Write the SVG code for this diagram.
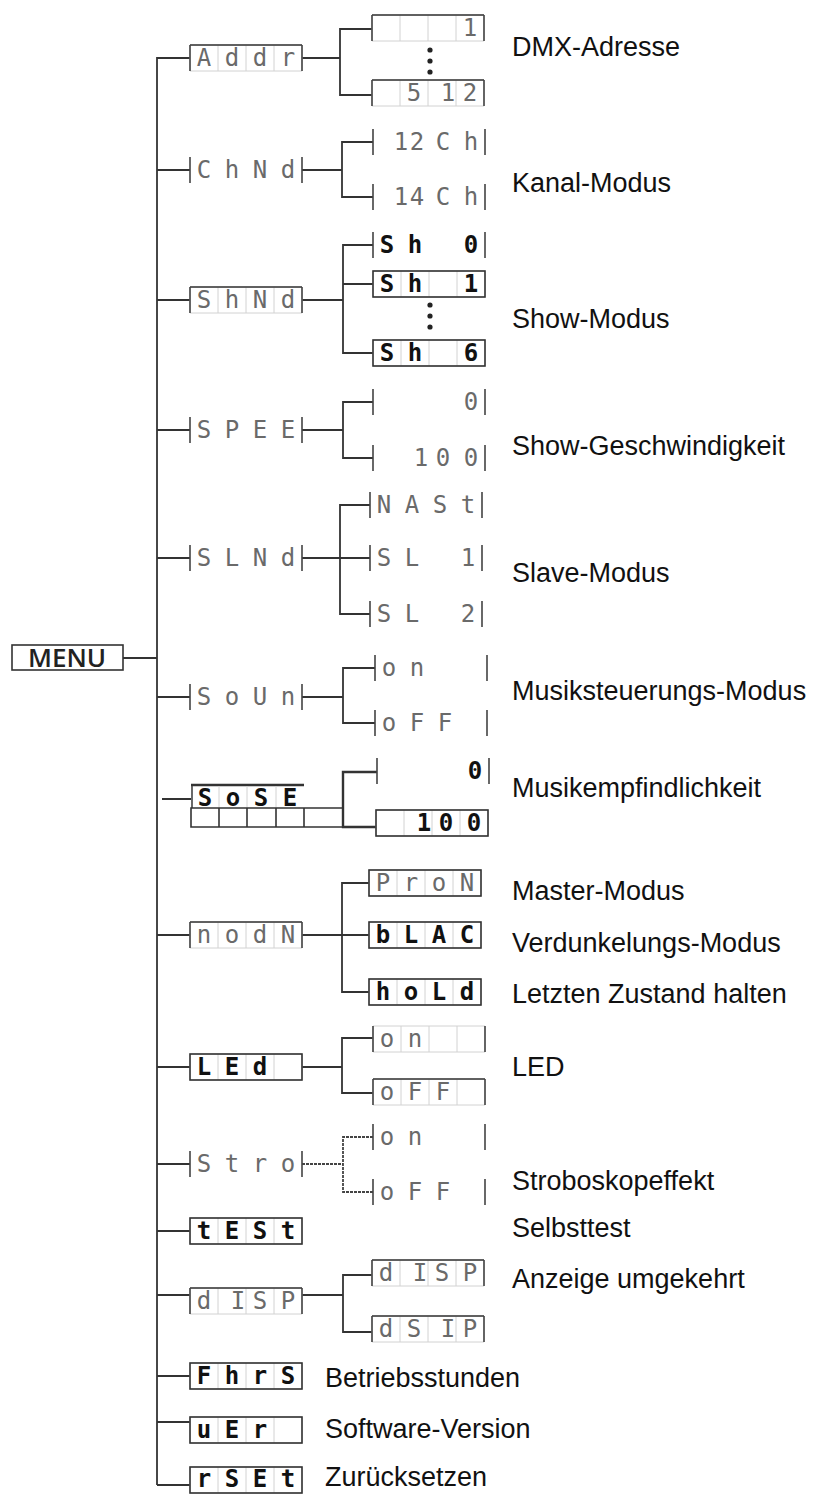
<svg xmlns="http://www.w3.org/2000/svg" xmlns:xlink="http://www.w3.org/1999/xlink" width="833" height="1495" viewBox="0 0 833 1495">
<style>
.ln{stroke:#333;stroke-width:1.8;fill:none}
.dl{stroke:#444;stroke-width:1.8;fill:none;stroke-dasharray:3 1}
.lbl{font-family:"Liberation Sans",Arial,sans-serif;font-size:27px;fill:#111}
.d{font-family:"DejaVu Sans Mono",monospace;font-size:24px;text-anchor:middle}
.thin{fill:#6a6a6a}
.bold{fill:#111;font-weight:bold}
.grid{stroke:#d2d2d2;stroke-width:1;fill:none}
.fr{stroke:#333;stroke-width:1.6;fill:none}
.tk{stroke:#444;stroke-width:1.6;fill:none}
.dot{fill:#222}
</style>
<defs>
<path id="g4" class="grid" d="M0,0H112V26H0ZM28,0V26M56,0V26M84,0V26"/>
<path id="tk" class="tk" d="M0,0V26M112,0V26"/>
<rect id="fr" class="fr" width="112" height="26"/>
<path id="top" class="fr" d="M0,0H112"/>
</defs>
<rect width="833" height="1495" fill="#fff"/>

<g id="connectors">
<path class="ln" d="M157,57V1485"/>
<path class="ln" d="M123,658H157"/>
<path class="ln" d="M157,58H190M157,170H190M157,300H190M157,430H190M157,558H190M157,697H190M162,799H191M157,935H190M157,1067H190M157,1164H190M157,1231H190M157,1295H190M157,1376H190M157,1422H190M157,1485H190"/>
<path class="ln" d="M302,58H340M372,29H340V95H372"/>
<path class="ln" d="M302,170H342M373,142H342V197H373"/>
<path class="ln" d="M302,300H343M373,245H343V353H373M343,284H373"/>
<path class="ln" d="M302,430H343M373,402H343V458H373"/>
<path class="ln" d="M302,558H370M370,505H340V614H370"/>
<path class="ln" d="M302,697H343M375,668H343V723H375"/>
<path class="ln" style="stroke-width:2.4" d="M377,772H343V827H376"/>
<path class="ln" d="M302,935H369M369,883H342V992H369"/>
<path class="ln" d="M302,1067H342M373,1038H342V1093H373"/>
<path class="dl" d="M302,1164H343M373,1137H343V1192H373"/>
<path class="ln" d="M302,1295H343M372,1275H343V1332H372"/>
</g>

<g id="menu">
<rect class="fr" x="12" y="645" width="111" height="25"/>
<text x="67" y="667" font-family="'Open Sans',sans-serif" font-size="26" font-weight="600" fill="#222" text-anchor="middle">MENU</text>
</g>

<g id="n-addr" transform="translate(190,45)"><use href="#g4"/><use href="#top"/><use href="#tk"/><text class="d thin" x="14 42 70 98" y="21">Addr</text></g>
<g id="n-chnd" transform="translate(190,157)"><use href="#tk"/><text class="d thin" x="14 42 70 98" y="21">ChNd</text></g>
<g id="n-shnd" transform="translate(190,287)"><use href="#g4"/><use href="#top"/><use href="#tk"/><text class="d thin" x="14 42 70 98" y="21">ShNd</text></g>
<g id="n-spee" transform="translate(190,417)"><use href="#tk"/><text class="d thin" x="14 42 70 98" y="21">SPEE</text></g>
<g id="n-slnd" transform="translate(190,545)"><use href="#tk"/><text class="d thin" x="14 42 70 98" y="21">SLNd</text></g>
<g id="n-soun" transform="translate(190,684)"><use href="#tk"/><text class="d thin" x="14 42 70 98" y="21">SoUn</text></g>
<g id="n-sose">
<path class="fr" style="stroke-width:2.6" d="M191,785H304"/>
<path class="tk" d="M192,786V808"/>
<path class="grid" d="M219,786V808M247,786V808M276,786V808"/>
<text class="d bold" x="205 233 261 290" y="806">SoSE</text>
<path class="fr" d="M191,808H343V827H191ZM219,808V827M247,808V827M276,808V827M304,808V827"/>
</g>
<g id="n-nodn" transform="translate(190,922)"><use href="#g4"/><use href="#top"/><use href="#tk"/><text class="d thin" x="14 42 70 98" y="21">nodN</text></g>
<g id="n-led" transform="translate(190,1054)"><use href="#g4"/><use href="#fr"/><text class="d bold" x="14 42 70" y="21">LEd</text></g>
<g id="n-stro" transform="translate(190,1151)"><use href="#tk"/><text class="d thin" x="14 42 70 98" y="21">Stro</text></g>
<g id="n-test" transform="translate(190,1218)"><use href="#g4"/><use href="#fr"/><text class="d bold" x="14 42 70 98" y="21">tESt</text></g>
<g id="n-disp" transform="translate(190,1288)"><use href="#g4"/><use href="#top"/><use href="#tk"/><text class="d thin" x="14 48 70 98" y="21">dISP</text></g>
<g id="n-fhrs" transform="translate(190,1363)"><use href="#g4"/><use href="#fr"/><text class="d bold" x="14 42 70 98" y="21">FhrS</text></g>
<g id="n-uer" transform="translate(190,1417)"><use href="#g4"/><use href="#fr"/><text class="d bold" x="14 42 70" y="21">uEr</text></g>
<g id="n-rset" transform="translate(190,1467)"><use href="#g4"/><use href="#fr"/><text class="d bold" x="14 42 70 98" y="20">rSEt</text></g>

<g id="s-addr1" transform="translate(372,15)"><use href="#g4"/><use href="#top"/><use href="#tk"/><text class="d thin" x="98" y="21">1</text></g>
<g id="s-addr2" transform="translate(372,80)"><use href="#g4"/><use href="#top"/><use href="#tk"/><text class="d thin" x="42 76 98" y="21">512</text></g>
<g id="dots-addr"><circle class="dot" cx="430" cy="50" r="2.6"/><circle class="dot" cx="430" cy="61" r="2.6"/><circle class="dot" cx="430" cy="72" r="2.6"/></g>

<g id="s-ch12" transform="translate(373,129)"><use href="#tk"/><text class="d thin" x="28 44 70 98" y="21">12Ch</text></g>
<g id="s-ch14" transform="translate(373,184)"><use href="#tk"/><text class="d thin" x="28 44 70 98" y="21">14Ch</text></g>

<g id="s-sh0" transform="translate(373,232)"><use href="#tk"/><text class="d bold" x="14 42 98" y="21">Sh0</text></g>
<g id="s-sh1" transform="translate(373,271)"><use href="#g4"/><use href="#fr"/><text class="d bold" x="14 42 98" y="21">Sh1</text></g>
<g id="dots-sh"><circle class="dot" cx="430" cy="305" r="2.6"/><circle class="dot" cx="430" cy="316" r="2.6"/><circle class="dot" cx="430" cy="327" r="2.6"/></g>
<g id="s-sh6" transform="translate(373,340)"><use href="#g4"/><use href="#fr"/><text class="d bold" x="14 42 98" y="21">Sh6</text></g>

<g id="s-sp0" transform="translate(373,389)"><use href="#tk"/><text class="d thin" x="98" y="21">0</text></g>
<g id="s-sp100" transform="translate(373,445)"><use href="#tk"/><text class="d thin" x="48 70 98" y="21">100</text></g>

<g id="s-mast" transform="translate(370,492)"><use href="#tk"/><text class="d thin" x="14 42 70 98" y="21">NASt</text></g>
<g id="s-sl1" transform="translate(370,545)"><use href="#tk"/><text class="d thin" x="14 42 98" y="21">SL1</text></g>
<g id="s-sl2" transform="translate(370,601)"><use href="#tk"/><text class="d thin" x="14 42 98" y="21">SL2</text></g>

<g id="s-sound-on" transform="translate(375,655)"><use href="#tk"/><text class="d thin" x="14 42" y="21">on</text></g>
<g id="s-sound-off" transform="translate(375,710)"><use href="#tk"/><text class="d thin" x="14 42 70" y="21">oFF</text></g>

<g id="s-sens0" transform="translate(377,758)"><use href="#tk"/><text class="d bold" x="98" y="21">0</text></g>
<g id="s-sens100" transform="translate(376,810)"><use href="#g4"/><use href="#fr"/><text class="d bold" x="48 70 98" y="21">100</text></g>

<g id="s-pron" transform="translate(369,870)"><use href="#g4"/><use href="#fr"/><text class="d thin" x="14 42 70 98" y="21">ProN</text></g>
<g id="s-blac" transform="translate(369,922)"><use href="#g4"/><use href="#fr"/><text class="d bold" x="14 42 70 98" y="21">bLAC</text></g>
<g id="s-hold" transform="translate(369,979)"><use href="#g4"/><use href="#fr"/><text class="d bold" x="14 42 70 98" y="21">hoLd</text></g>

<g id="s-led-on" transform="translate(373,1026)"><use href="#g4"/><use href="#tk"/><text class="d thin" x="14 42" y="21">on</text></g>
<g id="s-led-off" transform="translate(373,1079)"><use href="#g4"/><use href="#top"/><use href="#tk"/><text class="d thin" x="14 42 70" y="21">oFF</text></g>

<g id="s-stro-on" transform="translate(373,1124)"><use href="#tk"/><text class="d thin" x="14 42" y="21">on</text></g>
<g id="s-stro-off" transform="translate(373,1179)"><use href="#tk"/><text class="d thin" x="14 42 70" y="21">oFF</text></g>

<g id="s-disp1" transform="translate(372,1260)"><use href="#g4"/><use href="#top"/><use href="#tk"/><text class="d thin" x="14 48 70 98" y="21">dISP</text></g>
<g id="s-disp2" transform="translate(372,1316)"><use href="#g4"/><use href="#top"/><use href="#tk"/><text class="d thin" x="14 42 76 98" y="21">dSIP</text></g>

<g id="labels">
<text class="lbl" x="512" y="56">DMX-Adresse</text>
<text class="lbl" x="512" y="192">Kanal-Modus</text>
<text class="lbl" x="512" y="328">Show-Modus</text>
<text class="lbl" x="512" y="455">Show-Geschwindigkeit</text>
<text class="lbl" x="512" y="582">Slave-Modus</text>
<text class="lbl" x="512" y="700">Musiksteuerungs-Modus</text>
<text class="lbl" x="512" y="797">Musikempfindlichkeit</text>
<text class="lbl" x="512" y="900">Master-Modus</text>
<text class="lbl" x="512" y="952">Verdunkelungs-Modus</text>
<text class="lbl" x="512" y="1003">Letzten Zustand halten</text>
<text class="lbl" x="512" y="1076">LED</text>
<text class="lbl" x="512" y="1190">Stroboskopeffekt</text>
<text class="lbl" x="512" y="1237">Selbsttest</text>
<text class="lbl" x="512" y="1288">Anzeige umgekehrt</text>
<text class="lbl" x="325" y="1387">Betriebsstunden</text>
<text class="lbl" x="325" y="1438">Software-Version</text>
<text class="lbl" x="325" y="1486">Zurücksetzen</text>
</g>
</svg>
